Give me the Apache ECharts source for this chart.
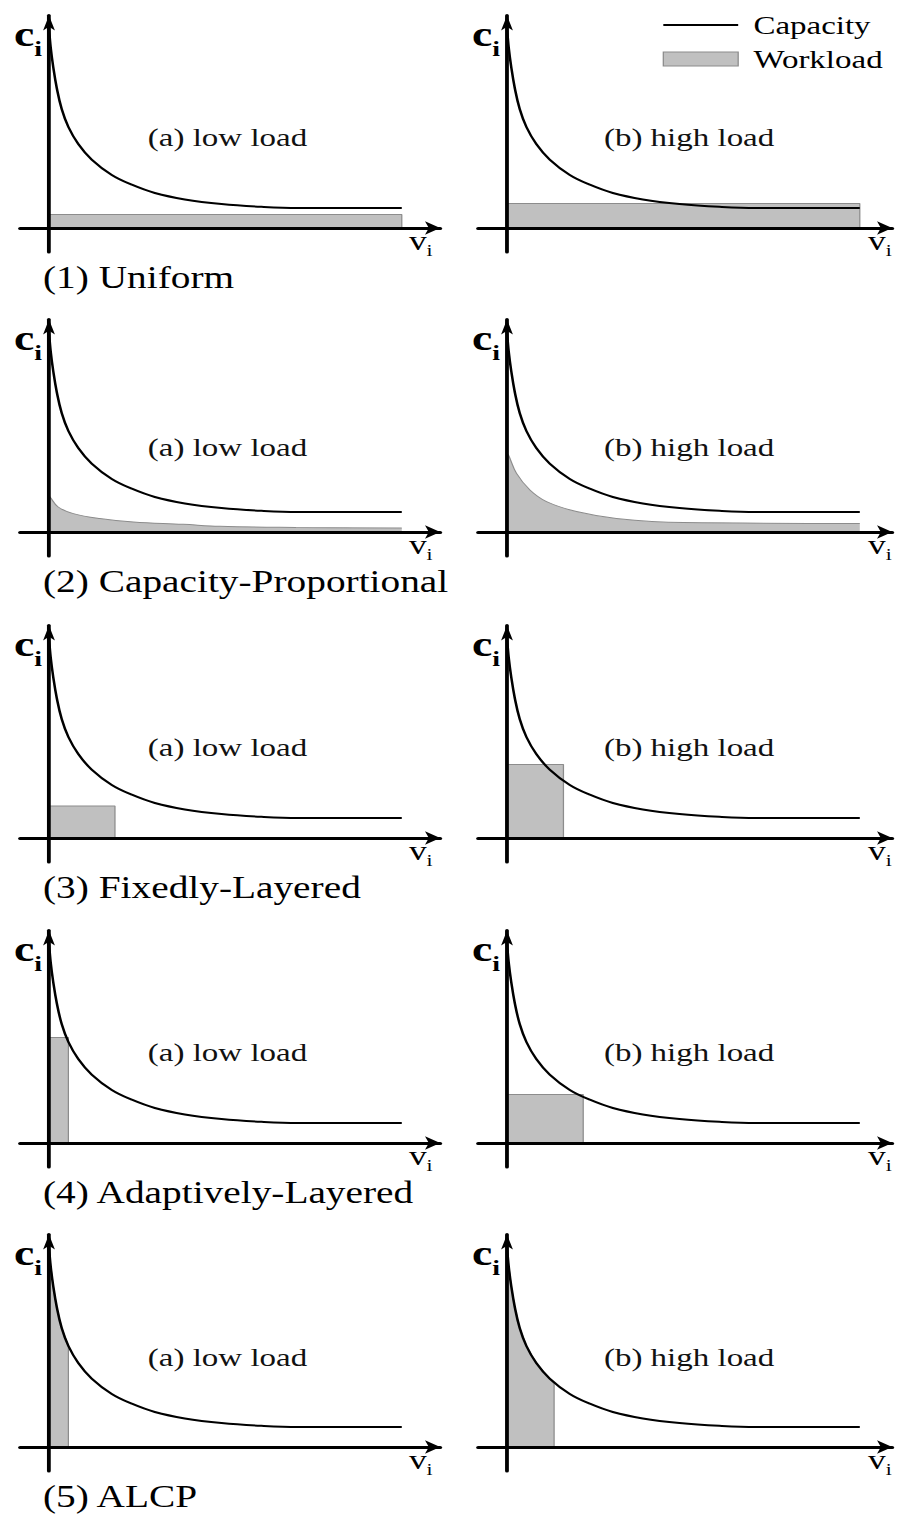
<!DOCTYPE html>
<html>
<head>
<meta charset="utf-8">
<script src="https://cdn.jsdelivr.net/npm/echarts@6/dist/echarts.min.js"></script>
<style>
  html, body { margin: 0; padding: 0; background: #fff; overflow: hidden; }
  /* the figure is laid out narrow and widened horizontally, as in the printed version */
  #chart { width: 710px; height: 1517px; transform: scaleX(1.26901); transform-origin: 0 0; }
</style>
</head>
<body>
<div id="chart"></div>
<script>
// Capacity c_i as a function of v_i (same curve in every panel)
const capacityCurve = [[0, 100], [0.5, 90], [1.2, 80.5], [2.2, 70], [3.6, 59.5], [5.5, 50.5],
  [8.3, 42], [12.1, 34.2], [17.8, 26.5], [23.4, 21.7], [30, 17.5], [38.5, 14.3], [48.9, 12],
  [60.2, 10.6], [70.6, 10], [100, 10]];

// (1) Uniform: one flat layer, [extent in v, level in c]
const uniformLow = [100, 6.7];
const uniformHigh = [100, 12.3];

// (2) Capacity-Proportional workload profiles
const proportionalLow = [[0, 18], [0.3, 17.5], [2.6, 12.5], [6.9, 9.2], [14.4, 6.7], [23.9, 5],
  [38, 3.85], [48.4, 2.85], [70, 2.3], [100, 2]];
const proportionalHigh = [[0, 39], [0.4, 38.5], [2.7, 29.3], [6.5, 21], [11.2, 15.2], [19.7, 10.2],
  [31, 6.8], [50, 4.7], [100, 4.3]];

// (3) Fixedly-Layered: [extent, level]
const fixedLow = [18.7, 16];
const fixedHigh = [16, 36.7];

// (4) Adaptively-Layered: [extent, level]
const adaptiveLow = [5.5, 52.7];
const adaptiveHigh = [21.6, 24.2];

// (5) ALCP: workload fills up to the capacity curve until the cut
const alcpLow = [[0, 100], [0.5, 90], [1.2, 80.5], [2.2, 70], [3.6, 59.5], [5.5, 50.5]];
const alcpHigh = [[0, 100], [0.5, 90], [1.2, 80.5], [2.2, 70], [3.6, 59.5], [5.5, 50.5],
  [8.3, 42], [12.1, 34.2], [13.35, 31.6]];

const schemeTitles = ['(1) Uniform', '(2) Capacity-Proportional', '(3) Fixedly-Layered',
  '(4) Adaptively-Layered', '(5) ALCP'];
const loadLabels = ['(a) low load', '(b) high load'];
const seriesNames = ['Capacity', 'Workload'];

// ---- layout (pixels in the un-widened frame) ----
const SX = 2.78;          // px per v unit
const SY = 2;             // px per c unit
const rowBase = [228, 532, 838, 1143, 1447];   // y of each row's v axis
const labelY = [137, 447, 747, 1052, 1357];
const colAxisX = [38.61, 399.53];               // x of each column's c axis
const colVMax = [110.9, 109.2];
const colNameGap = [-6, -0.3];
const labelCenterX = [179.3, 543];
const V_MIN = -8.2, C_MIN = -12, C_MAX = 106.25;
const SERIF = 'Liberation Serif';

const layer = ([ext, lvl]) => [[0, 0], [0, lvl], [ext, lvl], [ext, 0]];
const closeAt = pts => pts.concat([[pts[pts.length - 1][0], 0]]);

// [shape, smoothed]
const workloadShapes = [
  [layer(uniformLow), false], [layer(uniformHigh), false],
  [proportionalLow, 0.4], [proportionalHigh, 0.4],
  [layer(fixedLow), false], [layer(fixedHigh), false],
  [layer(adaptiveLow), false], [layer(adaptiveHigh), false],
  [closeAt(alcpLow), false], [closeAt(alcpHigh), false]
];

const grids = [], xAxes = [], yAxes = [], series = [], graphics = [];

for (let r = 0; r < 5; r++) {
  for (let c = 0; c < 2; c++) {
    const i = r * 2 + c;
    grids.push({
      left: colAxisX[c] + V_MIN * SX,
      width: (colVMax[c] - V_MIN) * SX,
      top: rowBase[r] - C_MAX * SY,
      height: (C_MAX - C_MIN) * SY,
      containLabel: false,
      outerBoundsMode: 'none'
    });
    xAxes.push({
      gridIndex: i, type: 'value', min: V_MIN, max: colVMax[c], z: 5,
      axisLine: { onZero: true, symbol: ['none', 'arrow'], symbolSize: [10, 12],
        lineStyle: { color: '#000', width: 3 } },
      axisTick: { show: false }, axisLabel: { show: false }, splitLine: { show: false },
      name: '{v|v}{s|i}', nameLocation: 'end', nameGap: colNameGap[c],
      nameTextStyle: {
        align: 'right', verticalAlign: 'top', padding: [15, 0, 0, 0],
        rich: {
          v: { fontFamily: SERIF, fontSize: 28, lineHeight: 16, color: '#000',
               verticalAlign: 'bottom', padding: [0, 0, 4, 0] },
          s: { fontFamily: SERIF, fontSize: 17, lineHeight: 14, color: '#000', verticalAlign: 'bottom' }
        }
      }
    });
    yAxes.push({
      gridIndex: i, type: 'value', min: C_MIN, max: C_MAX, z: 5,
      axisLine: { onZero: true, symbol: ['none', 'arrow'], symbolSize: [7, 15],
        lineStyle: { color: '#000', width: 3 } },
      axisTick: { show: false }, axisLabel: { show: false }, splitLine: { show: false },
      name: '{c|c}{s|i}', nameLocation: 'end', nameGap: -26,
      nameTextStyle: {
        align: 'right', verticalAlign: 'middle', padding: [0, 5.5, 0, 0],
        rich: {
          c: { fontFamily: SERIF, fontSize: 36, lineHeight: 36, fontWeight: 'bold', color: '#000',
               verticalAlign: 'bottom', padding: [0, 0, 8, 0] },
          s: { fontFamily: SERIF, fontSize: 22, lineHeight: 22, fontWeight: 'bold', color: '#000',
               verticalAlign: 'bottom' }
        }
      }
    });
    series.push({
      name: seriesNames[1], type: 'line', xAxisIndex: i, yAxisIndex: i,
      data: workloadShapes[i][0], smooth: workloadShapes[i][1],
      symbol: 'none', z: 2, silent: true,
      lineStyle: { color: '#8c8c8c', width: 1 },
      itemStyle: { color: '#c0c0c0' },
      areaStyle: { color: '#c0c0c0', opacity: 1, origin: 'auto' }
    });
    series.push({
      name: seriesNames[0], type: 'line', xAxisIndex: i, yAxisIndex: i,
      data: capacityCurve, symbol: 'none', z: 3, silent: true,
      smooth: 0.4,
      lineStyle: { color: '#000', width: 2 },
      itemStyle: { color: '#000' }
    });
    graphics.push({
      type: 'text', x: labelCenterX[c], y: labelY[r], z: 10, silent: true,
      style: { text: loadLabels[c], font: '26px "Liberation Serif"', fill: '#111',
               align: 'center', verticalAlign: 'middle' }
    });
  }
}

const titles = schemeTitles.map((t, r) => ({
  text: t, left: 33.9, top: rowBase[r] + 49 - 13, padding: 0,
  textStyle: { fontFamily: SERIF, fontSize: 31, fontWeight: 'normal', color: '#000', lineHeight: 26 }
}));

const chart = echarts.init(document.getElementById('chart'), null, { renderer: 'svg' });
chart.setOption({
  animation: false,
  backgroundColor: '#fff',
  title: titles,
  legend: {
    orient: 'vertical', left: 521.7, top: 12, padding: 0,
    itemWidth: 59, itemHeight: 14, itemGap: 8, selectedMode: false,
    textStyle: { fontFamily: SERIF, fontSize: 26, lineHeight: 26, color: '#000', padding: [0, 0, 0, 7] },
    data: [
      { name: seriesNames[0], itemStyle: { opacity: 0 } },
      { name: seriesNames[1], icon: 'rect',
        itemStyle: { color: '#c0c0c0', borderColor: '#8c8c8c', borderWidth: 1 } }
    ]
  },
  grid: grids,
  xAxis: xAxes,
  yAxis: yAxes,
  series: series,
  graphic: { elements: graphics }
});
</script>
</body>
</html>
